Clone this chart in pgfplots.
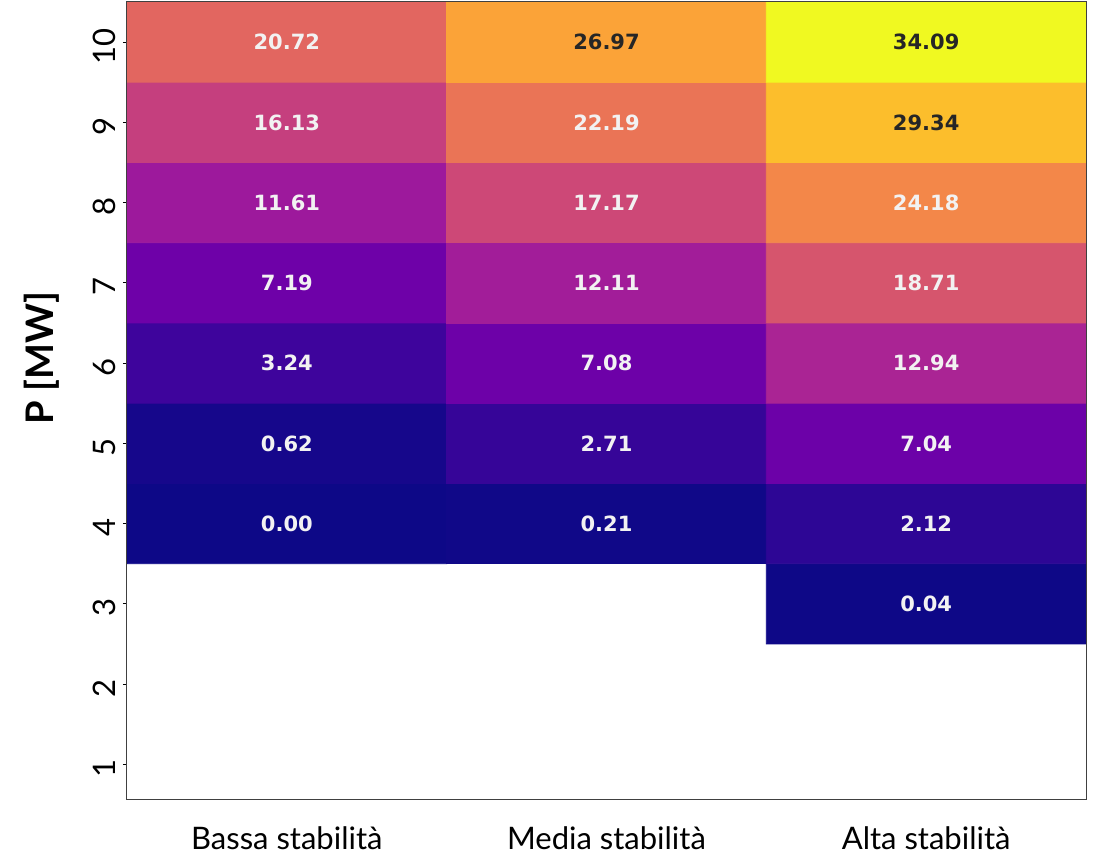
\documentclass[border=0pt]{standalone}
\usepackage{fontspec}
\setmainfont{Lato}
\newfontfamily\cellfont{DejaVu Sans}
\usepackage{pgfplots}
\pgfplotsset{compat=1.18}
\usepackage{pgfplotstable}

% plasma colour map (matplotlib)
\pgfplotsset{colormap={plasma}{
  rgb255=(13,8,135) rgb255=(65,4,157) rgb255=(106,0,168) rgb255=(143,13,164)
  rgb255=(177,42,144) rgb255=(204,71,120) rgb255=(225,100,98) rgb255=(242,132,75)
  rgb255=(252,166,54) rgb255=(252,206,37) rgb255=(240,249,33)}}
\definecolor{darktext}{RGB}{38,38,38}

% columns: 0 = Bassa, 1 = Media, 2 = Alta; rows: P [MW]
\pgfplotstableread{
x y v
0 3 nan
1 3 nan
2 3 0.04
0 4 0.00
1 4 0.21
2 4 2.12
0 5 0.62
1 5 2.71
2 5 7.04
0 6 3.24
1 6 7.08
2 6 12.94
0 7 7.19
1 7 12.11
2 7 18.71
0 8 11.61
1 8 17.17
2 8 24.18
0 9 16.13
1 9 22.19
2 9 29.34
0 10 20.72
1 10 26.97
2 10 34.09
}\heat

% labels on dark cells are set light, on light cells dark
\pgfplotstableread{
x y v
2 3 0.04
0 4 0.00
1 4 0.21
2 4 2.12
0 5 0.62
1 5 2.71
2 5 7.04
0 6 3.24
1 6 7.08
2 6 12.94
0 7 7.19
1 7 12.11
2 7 18.71
0 8 11.61
1 8 17.17
2 8 24.18
0 9 16.13
1 9 22.19
0 10 20.72
}\lightlabels
\pgfplotstableread{
x y v
2 9 29.34
1 10 26.97
2 10 34.09
}\darklabels

\begin{document}
\begin{tikzpicture}
\path[use as bounding box] (-63.5pt,-28.5pt) rectangle (486pt,400pt);
\begin{axis}[
  at={(0pt,0pt)}, anchor=south west,
  scale only axis, width=479.5pt, height=399pt,
  xmin=-0.5, xmax=2.5, ymin=0.556, ymax=10.5,
  colormap name=plasma, point meta min=0, point meta max=34.09,
  /pgf/number format/assume math mode=true,
  xtick={0,1,2},
  xticklabels={Bassa stabilità, Media stabilità, Alta stabilità},
  ytick={1,...,10},
  ytick pos=left,
  x tick label style={font=\fontsize{15.5}{18}\selectfont, yshift=-8pt},
  y tick label style={font=\fontsize{15.5}{18}\selectfont, rotate=90, anchor=south, xshift=-2pt},
  ylabel={\bfseries P [MW]},
  ylabel style={font=\fontsize{19}{22}\selectfont, yshift=10pt, xshift=21.5pt},
  tick align=outside,
  xtick style={draw=none},
  ytick style={black, line width=0.4pt},
  major tick length=2pt,
  axis line style={black!75, line width=0.5pt},
  unbounded coords=jump,
  axis on top,
]
\addplot[matrix plot*, mesh/cols=3, mesh/rows=8, point meta=explicit]
  table[x=x, y=y, meta=v] {\heat};
\addplot[only marks, mark=none, point meta=explicit symbolic,
  nodes near coords, nodes near coords align=center,
  every node near coord/.style={font=\cellfont\bfseries\fontsize{10.5}{12}\selectfont, text=white!95!black}]
  table[x=x, y=y, meta=v] {\lightlabels};
\addplot[only marks, mark=none, point meta=explicit symbolic,
  nodes near coords, nodes near coords align=center,
  every node near coord/.style={font=\cellfont\bfseries\fontsize{10.5}{12}\selectfont, text=darktext}]
  table[x=x, y=y, meta=v] {\darklabels};
\end{axis}
\end{tikzpicture}
\end{document}
